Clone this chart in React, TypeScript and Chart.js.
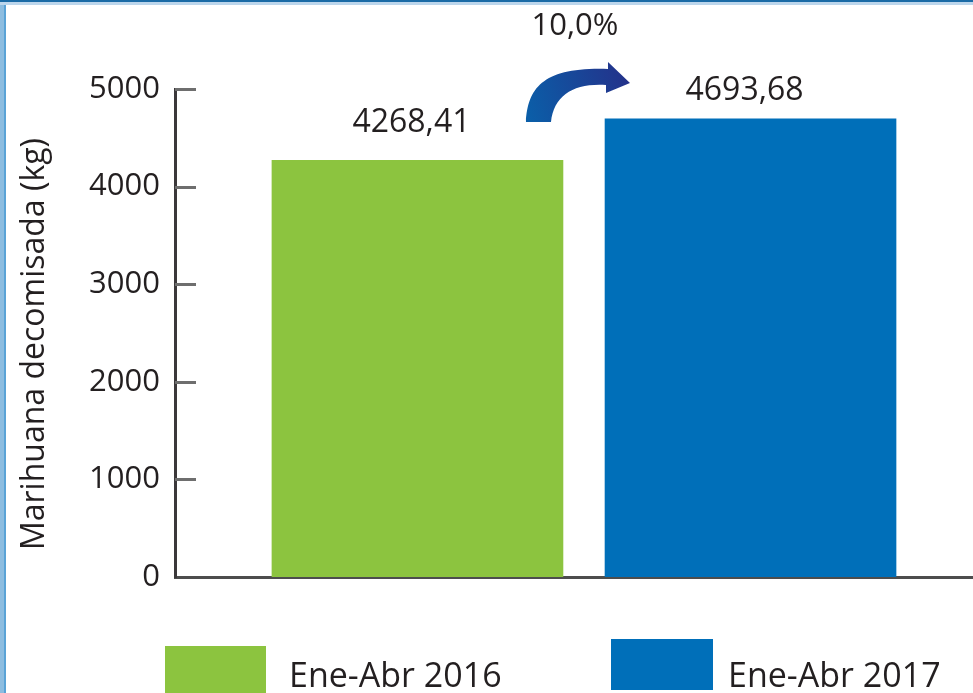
import React, { useEffect, useRef } from 'react';
import { Chart, registerables } from 'chart.js';

Chart.register(...registerables);

// ---- data ----
const categories = ['Ene-Abr 2016', 'Ene-Abr 2017'];
const seriesValues = [4268.41, 4693.68];
const yTicks = [0, 1000, 2000, 3000, 4000, 5000];
const barColors = ['#8CC43F', '#006FB9'];
const yTitle = 'Marihuana decomisada (kg)';

const FONT = '"Open Sans", "DejaVu Sans", sans-serif';
const TEXT = '#231f20';

const fmt = (v: number) => v.toFixed(2).replace('.', ',');
const pctChange = () =>
  ((seriesValues[1] / seriesValues[0] - 1) * 100).toFixed(1).replace('.', ',') + '%';

const decorPlugin = {
  id: 'decor',
  beforeDraw(chart: any) {
    const { ctx, width, height } = chart;
    ctx.save();
    ctx.fillStyle = '#ffffff';
    ctx.fillRect(0, 0, width, height);
    ctx.restore();
  },
  afterDraw(chart: any) {
    const { ctx, chartArea: area, width } = chart;
    const y = chart.scales.y;
    const meta = chart.getDatasetMeta(0);
    ctx.save();

    // frame
    ctx.fillStyle = '#8dbde0';
    ctx.fillRect(0, 0, 4, chart.height);
    ctx.fillStyle = '#5aa3d6';
    ctx.fillRect(4, 0, 2, chart.height);
    ctx.fillStyle = '#bcd6ec';
    ctx.fillRect(0, 2, width, 3);
    ctx.fillStyle = '#1a6ba6';
    ctx.fillRect(0, 0, width, 2);

    // inward ticks
    ctx.strokeStyle = '#6e6e6e';
    ctx.lineWidth = 3;
    yTicks.forEach((v) => {
      if (v === 0) return;
      const py = Math.round(y.getPixelForValue(v)) + 0.5;
      ctx.beginPath();
      ctx.moveTo(area.left, py);
      ctx.lineTo(area.left + 21, py);
      ctx.stroke();
    });

    // y title
    ctx.fillStyle = TEXT;
    ctx.font = `32px ${FONT}`;
    ctx.textAlign = 'center';
    ctx.textBaseline = 'alphabetic';
    ctx.save();
    ctx.translate(44, (area.top + area.bottom) / 2 + 11);
    ctx.rotate(-Math.PI / 2);
    ctx.fillText(yTitle, 0, 0);
    ctx.restore();

    // value labels
    const labelGap = [28, 19];
    ctx.font = `32px ${FONT}`;
    ctx.textAlign = 'center';
    meta.data.forEach((bar: any, i: number) => {
      ctx.fillText(fmt(seriesValues[i]), bar.x - 6, bar.y - labelGap[i]);
    });

    // arrow + percent
    const b0 = meta.data[0];
    const b1 = meta.data[1];
    const m = (b0.x + b0.width / 2 + b1.x - b1.width / 2) / 2;
    const t = area.top;
    ctx.font = `31px ${FONT}`;
    ctx.fillText(pctChange(), m - 9, t - 54);

    const grad = ctx.createLinearGradient(m - 58, t + 20, m + 46, t - 10);
    grad.addColorStop(0, '#0b5ea8');
    grad.addColorStop(1, '#24318a');
    ctx.fillStyle = grad;
    ctx.beginPath();
    ctx.moveTo(m - 58, t + 33);
    ctx.bezierCurveTo(m - 56, t - 2, m - 40, t - 22, m + 24, t - 20);
    ctx.lineTo(m + 24, t - 27);
    ctx.lineTo(m + 46, t - 6);
    ctx.lineTo(m + 22, t + 4);
    ctx.lineTo(m + 22, t - 4);
    ctx.bezierCurveTo(m - 10, t - 6, m - 30, t + 6, m - 33, t + 33);
    ctx.closePath();
    ctx.fill();

    // legend
    const legendX = [165, 611];
    const legendTop = [646, 639];
    const legendW = [101, 102];
    const textX = [289, 728];
    ctx.font = `34px ${FONT}`;
    ctx.textAlign = 'left';
    categories.forEach((c, i) => {
      ctx.fillStyle = barColors[i];
      ctx.fillRect(legendX[i], legendTop[i], legendW[i], 51);
      ctx.fillStyle = TEXT;
      ctx.fillText(c, textX[i], 687);
    });

    ctx.restore();
  },
};

export default function App() {
  const ref = useRef<HTMLCanvasElement | null>(null);
  useEffect(() => {
    if (!ref.current) return;
    const chart = new Chart(ref.current, {
      type: 'bar',
      data: {
        datasets: [
          {
            data: categories.map((c, i) => ({ x: i, y: seriesValues[i] })),
            backgroundColor: barColors,
            borderWidth: 0,
            barThickness: 291,
          } as any,
        ],
      },
      options: {
        animation: false,
        responsive: false,
        devicePixelRatio: 1,
        layout: { padding: { top: 89, left: 0, right: 0, bottom: 0 } },
        plugins: {
          legend: { display: false },
          tooltip: { enabled: false },
          title: { display: false },
        },
        scales: {
          x: {
            type: 'linear',
            min: -0.728,
            max: 1.668,
            bounds: 'data',
            offset: false,
            ticks: { display: false, stepSize: 1, includeBounds: false },
            grid: { display: false, drawTicks: false },
            border: { display: true, color: '#4d4d4d', width: 3 },
            afterFit: (s: any) => {
              s.height = 116;
            },
          },
          y: {
            min: 0,
            max: 5000,
            ticks: {
              stepSize: 1000,
              padding: 15,
              color: TEXT,
              font: { family: FONT, size: 31 },
              callback: (v: any) => String(v),
            },
            afterBuildTicks: (s: any) => {
              s.ticks = yTicks.map((v) => ({ value: v }));
            },
            grid: { display: false, drawTicks: false },
            border: { display: true, color: '#3b383a', width: 3 },
            afterFit: (s: any) => {
              s.width = 175;
            },
          },
        },
      } as any,
      plugins: [decorPlugin],
    });
    return () => chart.destroy();
  }, []);
  return (
    <div style={{ position: 'absolute', left: 0, top: 0, width: 973, height: 693 }}>
      <canvas ref={ref} width={973} height={693} style={{ display: 'block' }} />
    </div>
  );
}
